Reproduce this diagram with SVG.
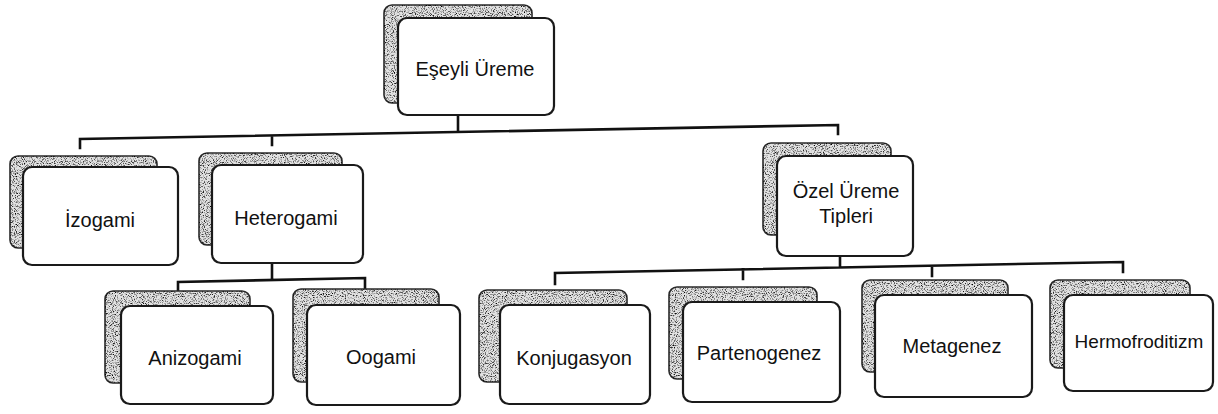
<svg xmlns="http://www.w3.org/2000/svg" width="1218" height="414" viewBox="0 0 1218 414">
<defs>
<filter id="grain" x="0" y="0" width="100%" height="100%">
<feTurbulence type="fractalNoise" baseFrequency="0.9" numOctaves="2" seed="7" result="noise"/>
<feColorMatrix in="noise" type="matrix" values="0 0 0 0 0  0 0 0 0 0  0 0 0 0 0  -3.0 0 0 0 1.55" result="dots"/>
<feComposite in="dots" in2="SourceGraphic" operator="in"/>
</filter>
<style>
.sh{fill:#e2e2e2;stroke:#2a2a2a;stroke-width:1.6}
.gr{fill:#222;filter:url(#grain)}
.fr{fill:#fff;stroke:#1a1a1a;stroke-width:2.2}
.t{font-family:"Liberation Sans",Arial,sans-serif;font-size:20px;fill:#111;text-anchor:middle}
.c{fill:none;stroke:#111;stroke-width:2.6;stroke-linecap:square}
</style>
</defs>
<rect width="1218" height="414" fill="#fff"/>
<g id="connectors">
<path class="c" d="M458,115 V132 M80,148 V139 L838,125 V134 M272,145 V135.5"/>
<path class="c" d="M272,263 V280 M178,293 V282 L365,278 V290"/>
<path class="c" d="M840,257 V267.5 M555,284 V273 L1123,262 V272 M743,279 V269.4 M932,276 V265.7"/>
</g>
<g id="n_eseyli">
<rect class="sh" x="384" y="5" width="148" height="98" rx="8"/>
<rect class="gr" x="384" y="5" width="148" height="98" rx="8"/>
<rect class="fr" x="398" y="18" width="156" height="97" rx="9"/>
<text class="t" x="475" y="76">Eşeyli Üreme</text>
</g>
<g id="n_izogami">
<rect class="sh" x="10" y="156" width="147" height="92" rx="8"/>
<rect class="gr" x="10" y="156" width="147" height="92" rx="8"/>
<rect class="fr" x="23" y="167" width="155" height="98" rx="9"/>
<text class="t" x="100" y="227">İzogami</text>
</g>
<g id="n_heterogami">
<rect class="sh" x="199" y="153" width="143" height="92" rx="8"/>
<rect class="gr" x="199" y="153" width="143" height="92" rx="8"/>
<rect class="fr" x="212" y="165" width="151" height="98" rx="9"/>
<text class="t" x="286" y="225">Heterogami</text>
</g>
<g id="n_ozel">
<rect class="sh" x="763" y="143" width="128" height="92" rx="8"/>
<rect class="gr" x="763" y="143" width="128" height="92" rx="8"/>
<rect class="fr" x="777" y="156" width="136" height="100" rx="9"/>
<text class="t" x="846" y="198">Özel Üreme</text>
<text class="t" x="846" y="223">Tipleri</text>
</g>
<g id="n_anizogami">
<rect class="sh" x="105" y="291" width="145" height="92" rx="8"/>
<rect class="gr" x="105" y="291" width="145" height="92" rx="8"/>
<rect class="fr" x="121" y="306" width="152" height="98" rx="9"/>
<text class="t" x="195" y="365">Anizogami</text>
</g>
<g id="n_oogami">
<rect class="sh" x="293" y="289" width="146" height="93" rx="8"/>
<rect class="gr" x="293" y="289" width="146" height="93" rx="8"/>
<rect class="fr" x="307" y="305" width="153" height="100" rx="9"/>
<text class="t" x="381" y="364">Oogami</text>
</g>
<g id="n_konjugasyon">
<rect class="sh" x="479" y="290" width="148" height="92" rx="8"/>
<rect class="gr" x="479" y="290" width="148" height="92" rx="8"/>
<rect class="fr" x="500" y="305" width="150" height="99" rx="9"/>
<text class="t" x="574" y="365">Konjugasyon</text>
</g>
<g id="n_partenogenez">
<rect class="sh" x="669" y="287" width="148" height="92" rx="8"/>
<rect class="gr" x="669" y="287" width="148" height="92" rx="8"/>
<rect class="fr" x="683" y="302" width="157" height="100" rx="9"/>
<text class="t" x="759" y="360">Partenogenez</text>
</g>
<g id="n_metagenez">
<rect class="sh" x="862" y="280" width="146" height="92" rx="8"/>
<rect class="gr" x="862" y="280" width="146" height="92" rx="8"/>
<rect class="fr" x="875" y="295" width="157" height="102" rx="9"/>
<text class="t" x="952" y="353">Metagenez</text>
</g>
<g id="n_hermofroditizm">
<rect class="sh" x="1050" y="280" width="140" height="88" rx="8"/>
<rect class="gr" x="1050" y="280" width="140" height="88" rx="8"/>
<rect class="fr" x="1064" y="295" width="149" height="96" rx="9"/>
<text class="t" x="1139" y="348" style="font-size:19px">Hermofroditizm</text>
</g>
</svg>
